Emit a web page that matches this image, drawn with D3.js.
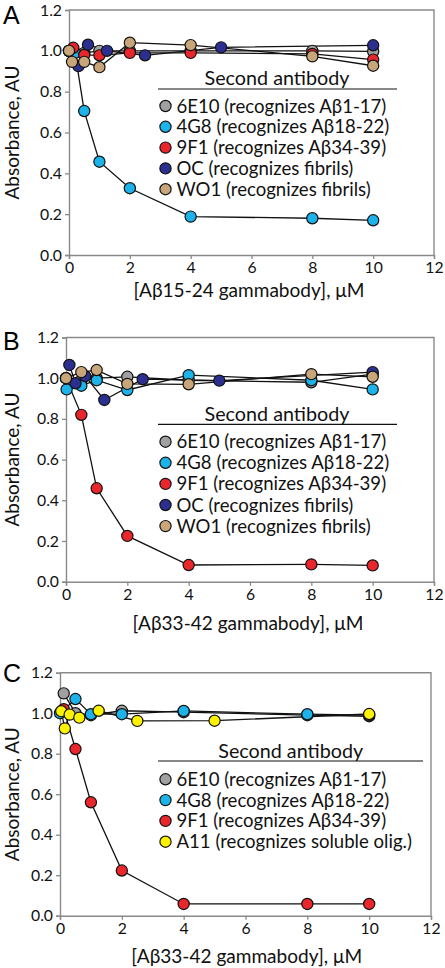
<!DOCTYPE html>
<html><head><meta charset="utf-8">
<script src="https://cdn.jsdelivr.net/npm/d3@7"></script>
<style>body{margin:0;background:#fff} svg{display:block}</style>
</head><body>
<svg id="c" width="445" height="968"></svg>
<script>
// ---------- DATA ----------
const xTickValues = [0, 2, 4, 6, 8, 10, 12];
const yTickValues = [0, 0.2, 0.4, 0.6, 0.8, 1.0, 1.2];

// Panel A: [Aβ15-24 gammabody]
const aGray6E10X = [0, 0.12, 0.5, 1, 2, 4, 8, 10];
const aGray6E10Y = [1.0, 1.0, 0.99, 1.0, 1.0, 1.0, 1.0, 0.997];
const aCyan4G8X  = [0, 0.2, 0.5, 1, 2, 4, 8, 10];
const aCyan4G8Y  = [1.0, 0.99, 0.705, 0.457, 0.327, 0.188, 0.18, 0.17];
const aRed9F1X   = [0, 0.14, 0.5, 1, 2, 4, 8, 10];
const aRed9F1Y   = [1.0, 1.015, 0.98, 0.978, 0.99, 0.99, 0.985, 0.957];
const aOCX       = [0.31, 0.625, 1.25, 2.5, 5, 10];
const aOCY       = [0.925, 1.03, 1.0, 0.978, 1.017, 1.027];
const aWO1X      = [0, 0.1, 0.5, 1, 2, 4, 8, 10];
const aWO1Y      = [1.0, 0.946, 0.946, 0.92, 1.04, 1.028, 0.973, 0.927];

// Panel B: [Aβ33-42 gammabody]
const bGray6E10X = [0, 0.5, 1, 2, 4, 8, 10];
const bGray6E10Y = [1.0, 0.99, 1.0, 1.007, 0.99, 0.98, 1.02];
const bCyan4G8X  = [0.02, 0.5, 1, 2, 4, 8, 10];
const bCyan4G8Y  = [0.945, 0.963, 0.99, 0.942, 1.015, 0.99, 0.945];
const bRed9F1X   = [0, 0.5, 1, 2, 4, 8, 10];
const bRed9F1Y   = [1.0, 0.82, 0.459, 0.225, 0.082, 0.085, 0.08];
const bOCX       = [0.11, 0.31, 0.625, 1.25, 2.5, 5, 10];
const bOCY       = [1.065, 0.975, 1.01, 0.893, 0.995, 0.988, 1.03];
const bWO1X      = [0, 0.5, 1, 2, 4, 8, 10];
const bWO1Y      = [1.0, 1.03, 1.04, 0.972, 0.97, 1.02, 1.007];

// Panel C: [Aβ33-42 gammabody]
const cGray6E10X = [0.12, 0.5, 1, 2, 4, 8, 10];
const cGray6E10Y = [1.098, 1.0, 0.99, 1.012, 1.005, 0.99, 0.985];
const cCyan4G8X  = [0, 0.5, 1, 2, 4, 8, 10];
const cCyan4G8Y  = [1.0, 1.07, 0.995, 0.995, 1.011, 0.995, 0.99];
const cRed9F1X   = [0.12, 0.5, 1, 2, 4, 8, 10];
const cRed9F1Y   = [1.02, 0.823, 0.56, 0.223, 0.058, 0.058, 0.058];
const cA11X      = [0.04, 0.156, 0.3125, 0.625, 1.25, 2.5, 5, 10];
const cA11Y      = [1.01, 0.925, 0.993, 0.978, 1.012, 0.962, 0.963, 0.996];

const legendLabelsAB = ["6E10 (recognizes Aβ1-17)", "4G8 (recognizes Aβ18-22)", "9F1 (recognizes Aβ34-39)", "OC (recognizes fibrils)", "WO1 (recognizes fibrils)"];
const legendLabelsC  = ["6E10 (recognizes Aβ1-17)", "4G8 (recognizes Aβ18-22)", "9F1 (recognizes Aβ34-39)", "A11 (recognizes soluble olig.)"];
const legendTitle = "Second antibody";
const yTitle = "Absorbance, AU";
const xTitleA = "[Aβ15-24 gammabody], μM";
const xTitleBC = "[Aβ33-42 gammabody], μM";

// ---------- STYLE ----------
const COL = {gray:"#a0a0a0", cyan:"#1cb3ea", red:"#e8262b", navy:"#2b3090", tan:"#c9a57a", yellow:"#fff200"};
const FONT = "Lato, 'Open Sans', sans-serif";
const AXC = "#8a8a8a";
const svg = d3.select('#c');

function fitSize(text, target, family){
  const t = svg.append('text').attr('font-family', family).attr('font-size', 20).text(text);
  const w = t.node().getComputedTextLength(); t.remove();
  return 20 * target / w;
}
const tickFs = fitSize("1.2", 22, FONT);
const legFs = fitSize(legendLabelsAB[0], 210, FONT);
const legTitleFs = fitSize(legendTitle, 145, FONT);
const xTitleFs = fitSize(xTitleA, 231, FONT);
const yTitleFs = fitSize(yTitle, 134, FONT);

function zip(xs, ys){ return xs.map((v,i)=>({x:v, y:ys[i]})); }

function panel(cfg){
  const x = d3.scaleLinear().domain([0,12]).range([cfg.left, cfg.right]);
  const y = d3.scaleLinear().domain([0,1.2]).range([cfg.bottom, cfg.top]);
  const g = svg.append('g');
  const xa = g.append('g').attr('transform',`translate(0,${cfg.bottom})`)
    .call(d3.axisBottom(x).tickValues(xTickValues).tickSize(4).tickPadding(3).tickFormat(d3.format('d')));
  const ya = g.append('g').attr('transform',`translate(${cfg.left},0)`)
    .call(d3.axisLeft(y).tickValues(yTickValues).tickSize(4).tickPadding(3).tickFormat(d3.format('.1f')));
  [xa, ya].forEach(a=>{
    a.select('.domain').attr('stroke', AXC).attr('stroke-width', 1.4);
    a.selectAll('.tick line').attr('stroke', AXC).attr('stroke-width', 1.3);
    a.selectAll('text').attr('font-family', FONT).attr('font-size', tickFs).attr('fill', '#111');
  });
  // top and right border
  g.append('path').attr('d', `M${cfg.left},${cfg.top}H${cfg.right}V${cfg.bottom}`)
    .attr('fill','none').attr('stroke', AXC).attr('stroke-width', 1.4);

  const line = d3.line().x(d=>x(d.x)).y(d=>y(d.y));
  cfg.series.forEach(s=>{
    g.append('path').datum(zip(s.xs, s.ys)).attr('d', line)
      .attr('fill','none').attr('stroke','#111').attr('stroke-width',1.3);
  });
  cfg.series.forEach(s=>{
    g.selectAll(null).data(zip(s.xs, s.ys)).enter().append('circle')
      .attr('cx', d=>x(d.x)).attr('cy', d=>y(d.y)).attr('r', 5.6)
      .attr('fill', s.color).attr('stroke', '#111').attr('stroke-width', 1.2);
  });

  // legend
  const L = cfg.legend;
  g.append('text').attr('x', L.titleX).attr('y', L.titleY).attr('dy','0.35em')
    .attr('text-anchor','middle').attr('font-family', FONT).attr('font-size', legTitleFs)
    .attr('fill','#111').text(legendTitle);
  g.append('line').attr('x1', L.x1).attr('x2', L.x2).attr('y1', L.lineY).attr('y2', L.lineY)
    .attr('stroke','#111').attr('stroke-width',1.2);
  cfg.labels.forEach((lab,i)=>{
    const cy = L.rowY + i*L.rowStep;
    g.append('circle').attr('cx', 165.5).attr('cy', cy).attr('r', 5.6)
      .attr('fill', cfg.series[i].color).attr('stroke','#111').attr('stroke-width',1.2);
    g.append('text').attr('x', 176.5).attr('y', cy).attr('dy','0.35em')
      .attr('font-family', FONT).attr('font-size', legFs).attr('fill','#111').text(lab);
  });

  // axis titles
  g.append('text').attr('x', cfg.xTitleX).attr('y', cfg.xTitleY).attr('dy','0.35em')
    .attr('text-anchor','middle').attr('font-family', FONT).attr('font-size', xTitleFs)
    .attr('fill','#111').text(cfg.xTitle);
  g.append('text').attr('transform', `translate(12,${(cfg.top+cfg.bottom)/2}) rotate(-90)`)
    .attr('dy','0.35em').attr('text-anchor','middle').attr('font-family', FONT)
    .attr('font-size', yTitleFs).attr('fill','#111').text(yTitle);
  // panel letter
  g.append('text').attr('x', 3).attr('y', cfg.letterY).attr('font-family', "'Liberation Sans', Arial, sans-serif")
    .attr('font-size', 25).attr('fill','#000').text(cfg.letter);
}

panel({
  letter:'A', letterY:24, left:69, right:434, top:10, bottom:255,
  xTitle:xTitleA, xTitleX:249, xTitleY:290,
  labels:legendLabelsAB,
  legend:{titleX:277, titleY:78, lineY:89, x1:158, x2:397, rowY:106, rowStep:20.8},
  series:[
    {xs:aGray6E10X, ys:aGray6E10Y, color:COL.gray},
    {xs:aCyan4G8X, ys:aCyan4G8Y, color:COL.cyan},
    {xs:aRed9F1X, ys:aRed9F1Y, color:COL.red},
    {xs:aOCX, ys:aOCY, color:COL.navy},
    {xs:aWO1X, ys:aWO1Y, color:COL.tan}
  ]
});
panel({
  letter:'B', letterY:350, left:66, right:434, top:337.5, bottom:581.7,
  xTitle:xTitleBC, xTitleX:248, xTitleY:623,
  labels:legendLabelsAB,
  legend:{titleX:277, titleY:414, lineY:424.3, x1:158, x2:397, rowY:441.7, rowStep:21.1},
  series:[
    {xs:bGray6E10X, ys:bGray6E10Y, color:COL.gray},
    {xs:bCyan4G8X, ys:bCyan4G8Y, color:COL.cyan},
    {xs:bRed9F1X, ys:bRed9F1Y, color:COL.red},
    {xs:bOCX, ys:bOCY, color:COL.navy},
    {xs:bWO1X, ys:bWO1Y, color:COL.tan}
  ]
});
panel({
  letter:'C', letterY:682, left:60, right:431, top:672.7, bottom:915.7,
  xTitle:xTitleBC, xTitleX:246.7, xTitleY:956.7,
  labels:legendLabelsC,
  legend:{titleX:290.7, titleY:750.7, lineY:761, x1:158, x2:423, rowY:779.3, rowStep:20.8},
  series:[
    {xs:cGray6E10X, ys:cGray6E10Y, color:COL.gray},
    {xs:cCyan4G8X, ys:cCyan4G8Y, color:COL.cyan},
    {xs:cRed9F1X, ys:cRed9F1Y, color:COL.red},
    {xs:cA11X, ys:cA11Y, color:COL.yellow}
  ]
});
</script>
</body></html>
